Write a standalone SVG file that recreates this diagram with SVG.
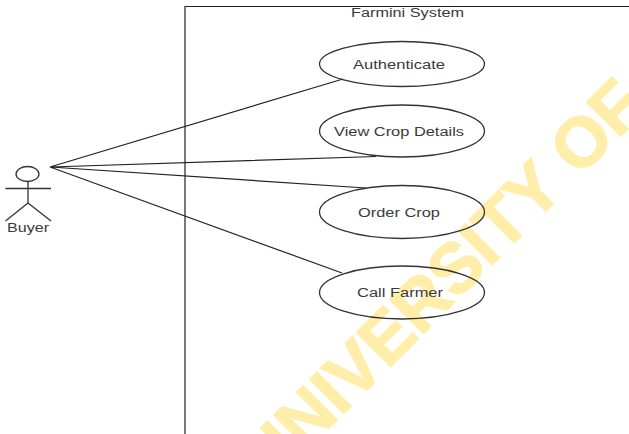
<svg xmlns="http://www.w3.org/2000/svg" width="629" height="434" viewBox="0 0 629 434">
<style>
text{font-family:"Liberation Sans",Arial,sans-serif;font-size:12px;fill:#3a3a3a;text-anchor:start}
.s{fill:none;stroke:#222;stroke-width:1.2}
.u{fill:none;stroke:#333;stroke-width:1.3}
#watermark text{font-size:70px;font-weight:bold;fill:#ffeeaa;stroke:#ffeeaa;stroke-width:1.500}
</style>
<rect width="629" height="434" fill="#fff"/>
<g id="watermark"><text transform="translate(269 488) rotate(-45)">UNIVERSITY OF</text></g>
<g id="system"><path class="s" d="M185 434V6.500H629"/><text x="351" y="17" textLength="113" lengthAdjust="spacingAndGlyphs">Farmini System</text></g>
<g id="connectors">
<path class="s" d="M50 167L343 79M50 167L376 156.500M50 167L366 188M50 167L342 273"/>
</g>
<g id="actor-buyer"><ellipse class="u" cx="27.500" cy="174" rx="11.500" ry="7.500"/><path class="u" d="M28 181.500V203M5.500 188.500H51M28 203L5.500 221M28 203L51 221"/><text x="7" y="232" textLength="42" lengthAdjust="spacingAndGlyphs">Buyer</text></g>
<g id="uc-authenticate"><ellipse class="u" cx="402" cy="64" rx="82.500" ry="22.500"/><text x="353" y="68.500" textLength="92" lengthAdjust="spacingAndGlyphs">Authenticate</text></g>
<g id="uc-view"><ellipse class="u" cx="402" cy="131" rx="82.500" ry="26"/><text x="334" y="135.500" textLength="130" lengthAdjust="spacingAndGlyphs">View Crop Details</text></g>
<g id="uc-order"><ellipse class="u" cx="402" cy="212" rx="82.500" ry="26.500"/><text x="358" y="216.500" textLength="82" lengthAdjust="spacingAndGlyphs">Order Crop</text></g>
<g id="uc-call"><ellipse class="u" cx="402" cy="292.500" rx="82.500" ry="26.500"/><text x="357" y="296.500" textLength="86" lengthAdjust="spacingAndGlyphs">Call Farmer</text></g>
</svg>
